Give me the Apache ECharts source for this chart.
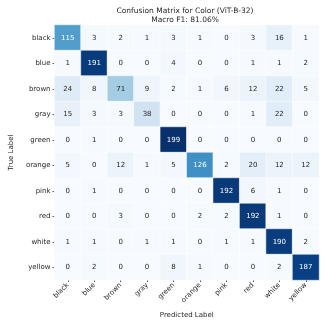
<!DOCTYPE html>
<html>
<head>
<meta charset="utf-8">
<script src="https://cdn.jsdelivr.net/npm/echarts@6/dist/echarts.min.js"></script>
<style>html,body{margin:0;padding:0;background:#fff}#main{width:324px;height:324px}</style>
</head>
<body>
<div id="main"></div>
<script>
var labels = ['black', 'blue', 'brown', 'gray', 'green', 'orange', 'pink', 'red', 'white', 'yellow'];
// rows = true label, columns = predicted label
var matrix = [
  [115, 3, 2, 1, 3, 1, 0, 3, 16, 1],
  [1, 191, 0, 0, 4, 0, 0, 1, 1, 2],
  [24, 8, 71, 9, 2, 1, 6, 12, 22, 5],
  [15, 3, 3, 38, 0, 0, 0, 1, 22, 0],
  [0, 1, 0, 0, 199, 0, 0, 0, 0, 0],
  [5, 0, 12, 1, 5, 126, 2, 20, 12, 12],
  [0, 1, 0, 0, 0, 0, 192, 6, 1, 0],
  [0, 0, 3, 0, 0, 2, 2, 192, 1, 0],
  [1, 1, 0, 1, 1, 0, 1, 1, 190, 2],
  [0, 2, 0, 0, 8, 1, 0, 0, 2, 187]
];
var blues = ['#f7fbff', '#deebf7', '#c6dbef', '#9ecae1', '#6baed6', '#4292c6', '#2171b5', '#08519c', '#08306b'];

var myChart = echarts.init(document.getElementById('main'));
var maxVal = 199;
var data = [];
matrix.forEach(function (row, i) {
  row.forEach(function (v, j) {
    data.push({
      value: [j, i, v],
      label: { color: v / maxVal > 0.5 ? '#ffffff' : '#262626' }
    });
  });
});

var option = {
  animation: false,
  title: {
    text: 'Confusion Matrix for Color (ViT-B-32)\nMacro F1: 81.06%',
    left: 180,
    textAlign: 'center',
    top: 2,
    textStyle: { fontSize: 7.5, fontWeight: 'normal', color: '#262626', lineHeight: 9, fontFamily: 'DejaVu Sans' }
  },
  grid: { left: 42, right: 5, top: 25, bottom: 41 },
  xAxis: {
    type: 'category',
    data: labels,
    name: 'Predicted Label',
    nameLocation: 'middle',
    nameGap: 32,
    nameTextStyle: { fontSize: 7, color: '#262626', fontFamily: 'DejaVu Sans' },
    axisLine: { show: false },
    axisTick: { show: true, alignWithLabel: true, length: 2, lineStyle: { color: '#555' } },
    axisLabel: { rotate: 45, fontSize: 7, color: '#262626', margin: 4, fontFamily: 'DejaVu Sans' },
    splitArea: { show: false }
  },
  yAxis: {
    type: 'category',
    data: labels,
    inverse: true,
    name: 'True Label',
    nameLocation: 'middle',
    nameGap: 33,
    nameTextStyle: { fontSize: 7, color: '#262626', fontFamily: 'DejaVu Sans' },
    axisLine: { show: false },
    axisTick: { show: true, alignWithLabel: true, length: 2, lineStyle: { color: '#555' } },
    axisLabel: { fontSize: 7, color: '#262626', margin: 4, fontFamily: 'DejaVu Sans' }
  },
  visualMap: {
    show: false,
    min: 0,
    max: maxVal,
    dimension: 2,
    inRange: { color: blues }
  },
  series: [{
    type: 'heatmap',
    data: data,
    label: { show: true, fontSize: 7, fontFamily: 'DejaVu Sans' },
    itemStyle: { borderColor: '#ffffff', borderWidth: 0.5 }
  }]
};
myChart.setOption(option);
</script>
</body>
</html>
